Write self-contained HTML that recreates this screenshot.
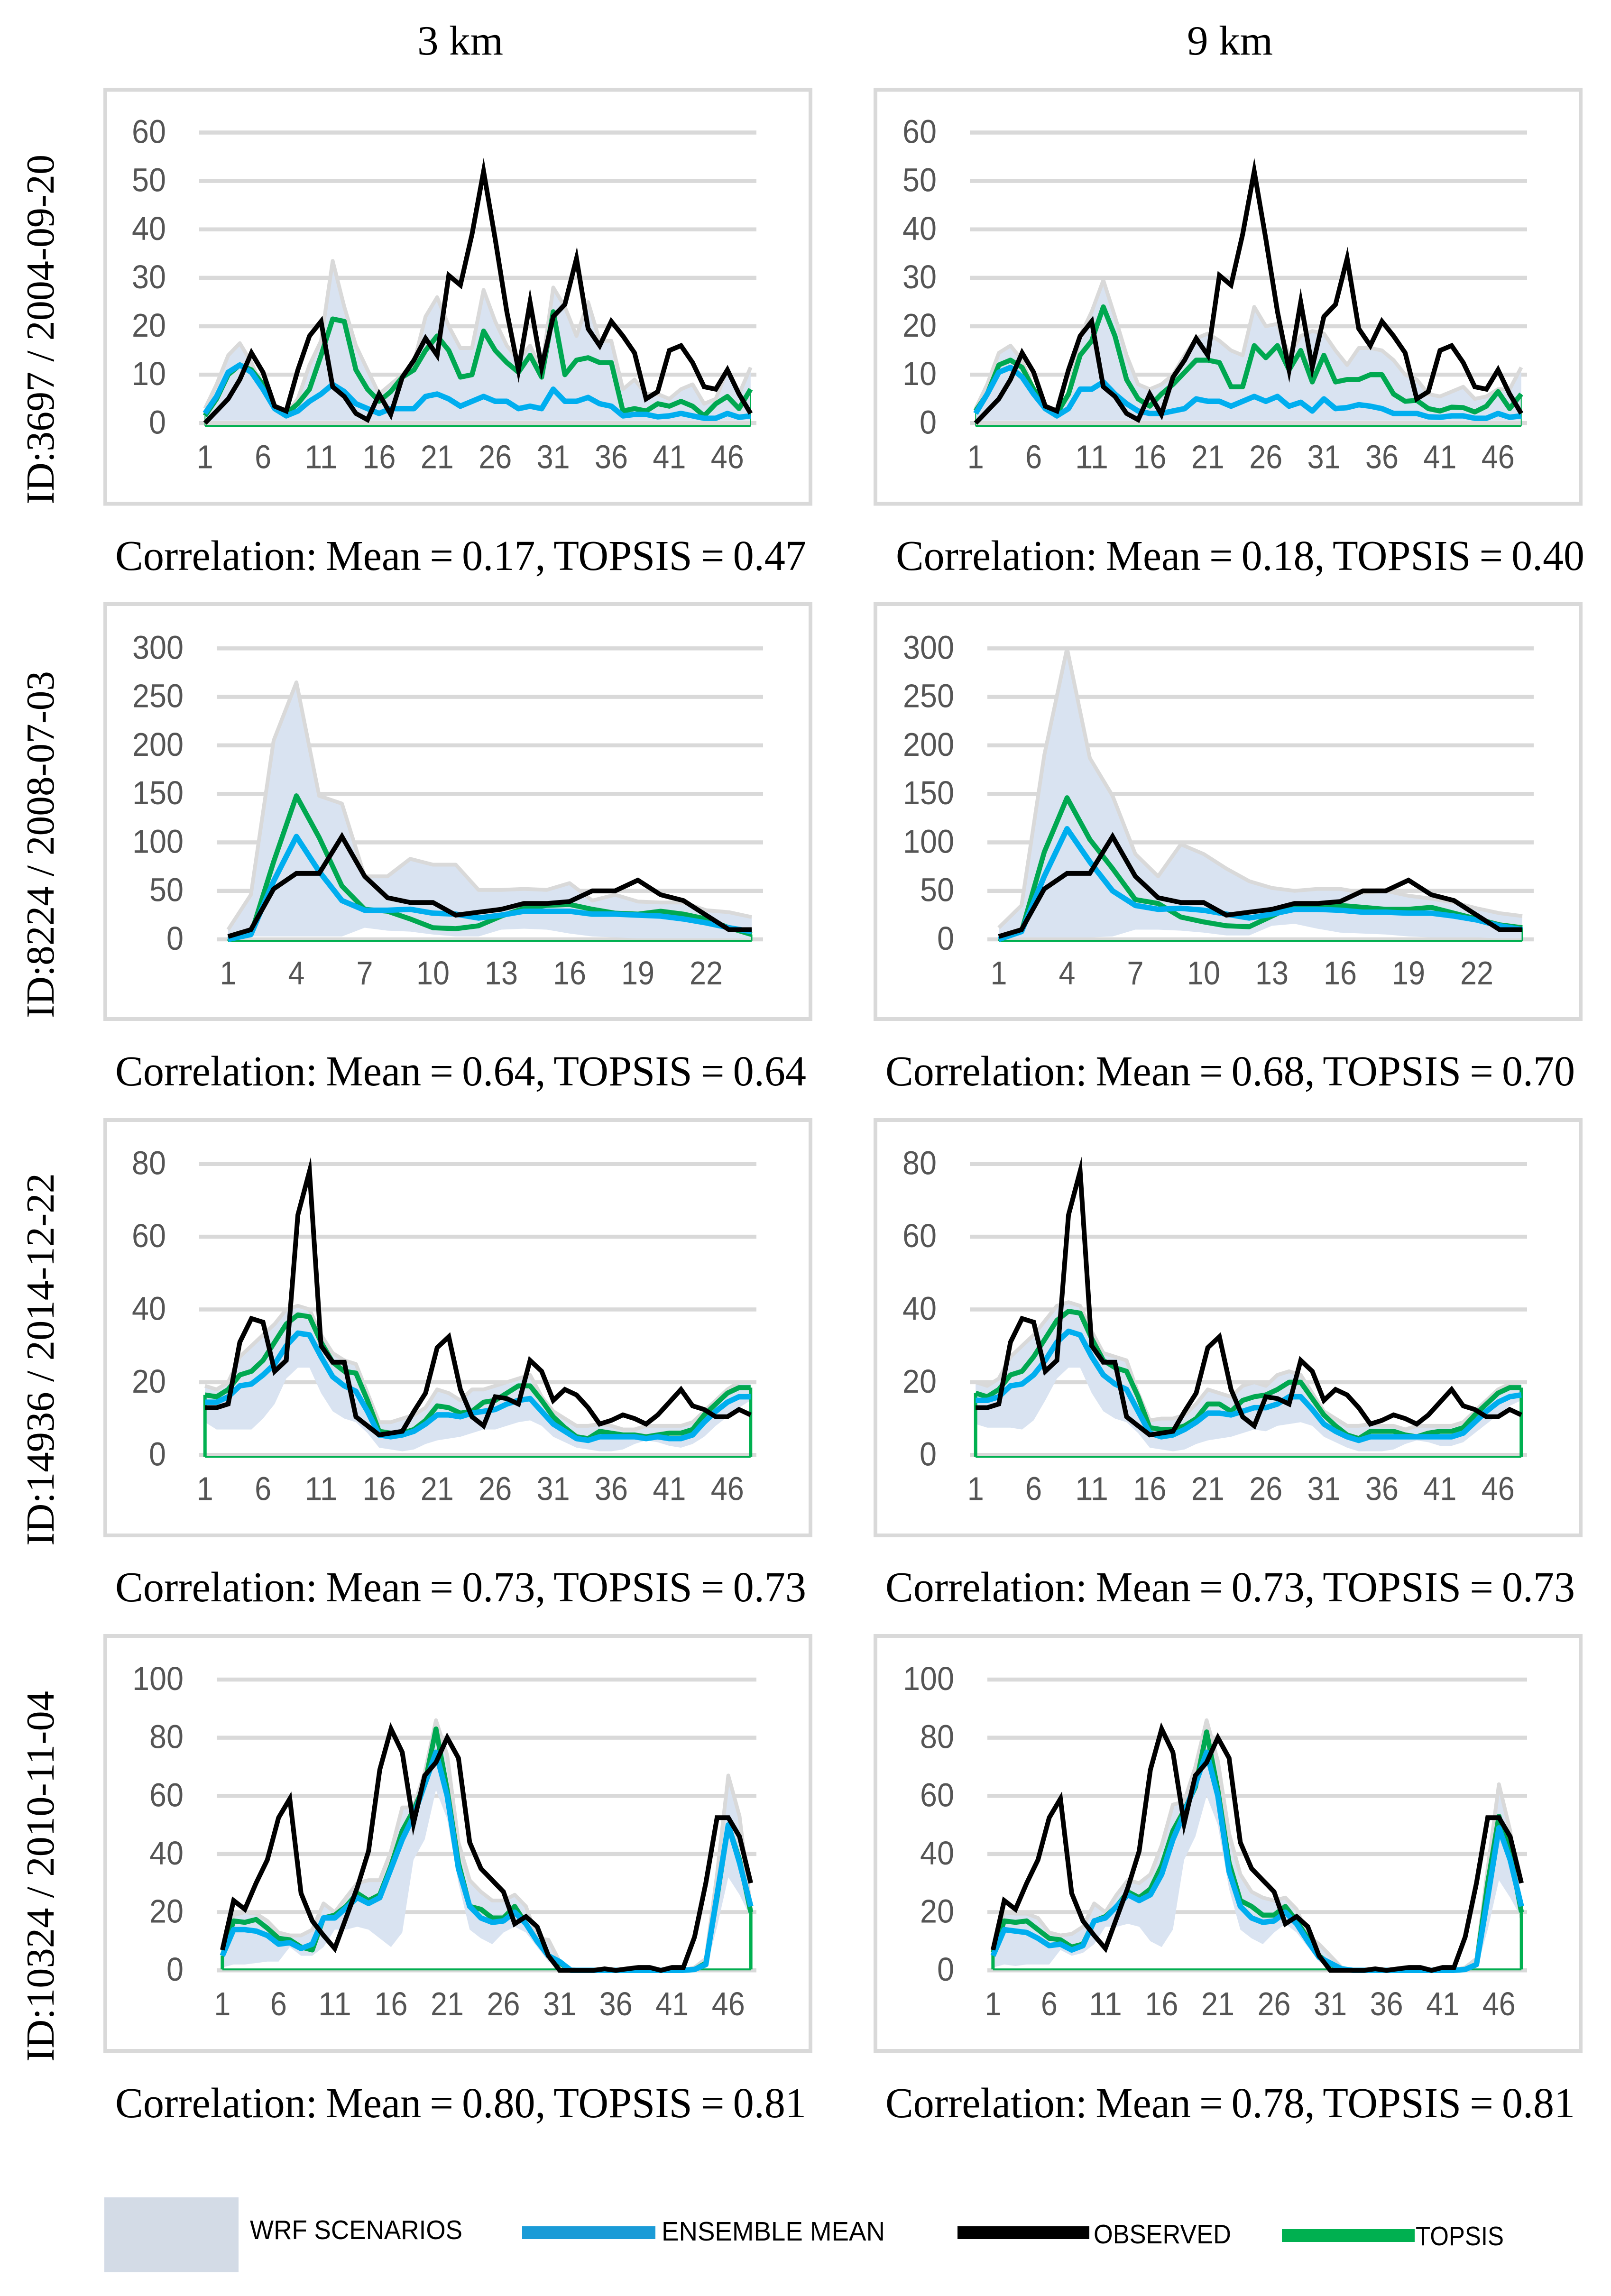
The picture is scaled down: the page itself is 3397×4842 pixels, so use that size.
<!DOCTYPE html>
<html lang="en">
<head>
<meta charset="utf-8">
<title>WRF scenarios vs observed</title>
<style>
html,body{margin:0;padding:0;background:#fff;}
svg{display:block;}
.serif{font-family:"Liberation Serif",serif;fill:#000;}
.sans{font-family:"Liberation Sans",sans-serif;}
.lg{font-family:"Liberation Sans",sans-serif;font-size:57px;fill:#000;}
.corr{font-size:90px;word-spacing:-4px;}
.rowlab{font-size:84px;}
</style>
</head>
<body>
<svg id="figure" xmlns="http://www.w3.org/2000/svg" width="3397" height="4842" viewBox="0 0 3397 4842">
  <rect x="0" y="0" width="3397" height="4842" fill="#fff"/>
  <text class="serif" x="880" y="115" font-size="88" textLength="181" lengthAdjust="spacingAndGlyphs">3 km</text>
  <text class="serif" x="2503" y="115" font-size="88" textLength="181" lengthAdjust="spacingAndGlyphs">9 km</text>

  <text class="serif rowlab" transform="translate(113,1064) rotate(-90)" textLength="738" lengthAdjust="spacingAndGlyphs">ID:3697 / 2004-09-20</text>
  <text class="serif rowlab" transform="translate(113,2147) rotate(-90)" textLength="732" lengthAdjust="spacingAndGlyphs">ID:8224 / 2008-07-03</text>
  <text class="serif rowlab" transform="translate(113,3260) rotate(-90)" textLength="786" lengthAdjust="spacingAndGlyphs">ID:14936 / 2014-12-22</text>
  <text class="serif rowlab" transform="translate(113,4348) rotate(-90)" textLength="782" lengthAdjust="spacingAndGlyphs">ID:10324 / 2010-11-04</text>

  <text class="serif corr" x="243" y="1202" textLength="1457" lengthAdjust="spacingAndGlyphs">Correlation: Mean = 0.17, TOPSIS = 0.47</text>
  <text class="serif corr" x="1889" y="1202" textLength="1452" lengthAdjust="spacingAndGlyphs">Correlation: Mean = 0.18, TOPSIS = 0.40</text>
  <text class="serif corr" x="243" y="2289" textLength="1457" lengthAdjust="spacingAndGlyphs">Correlation: Mean = 0.64, TOPSIS = 0.64</text>
  <text class="serif corr" x="1867" y="2289" textLength="1454" lengthAdjust="spacingAndGlyphs">Correlation: Mean = 0.68, TOPSIS = 0.70</text>
  <text class="serif corr" x="243" y="3377" textLength="1457" lengthAdjust="spacingAndGlyphs">Correlation: Mean = 0.73, TOPSIS = 0.73</text>
  <text class="serif corr" x="1867" y="3377" textLength="1454" lengthAdjust="spacingAndGlyphs">Correlation: Mean = 0.73, TOPSIS = 0.73</text>
  <text class="serif corr" x="243" y="4465" textLength="1457" lengthAdjust="spacingAndGlyphs">Correlation: Mean = 0.80, TOPSIS = 0.81</text>
  <text class="serif corr" x="1867" y="4465" textLength="1454" lengthAdjust="spacingAndGlyphs">Correlation: Mean = 0.78, TOPSIS = 0.81</text>

  <g>
    <rect x="220" y="4634" width="283" height="158" fill="#d3dbe6"/>
    <text class="lg" x="527" y="4722" textLength="448" lengthAdjust="spacingAndGlyphs">WRF SCENARIOS</text>
    <rect x="1101" y="4695" width="281" height="27" fill="#1a9bd7"/>
    <text class="lg" x="1395" y="4725" textLength="471" lengthAdjust="spacingAndGlyphs">ENSEMBLE MEAN</text>
    <rect x="2019" y="4695" width="278" height="27" fill="#000"/>
    <text class="lg" x="2306" y="4731" textLength="290" lengthAdjust="spacingAndGlyphs">OBSERVED</text>
    <rect x="2703" y="4701" width="280" height="27" fill="#00b050"/>
    <text class="lg" x="2985" y="4735" textLength="186" lengthAdjust="spacingAndGlyphs">TOPSIS</text>
  </g>
  <g id="charts"></g>
</svg>
<script>
/* ---------- tick labels ---------- */
const xTicks48 = ['1','6','11','16','21','26','31','36','41','46'];
const xTicks24 = ['1','4','7','10','13','16','19','22'];
const yTicks3697 = [0,10,20,30,40,50,60];
const yTicks8224 = [0,50,100,150,200,250,300];
const yTicks14936 = [0,20,40,60,80];
const yTicks10324 = [0,20,40,60,80,100];

/* ---------- event 3697 ---------- */
const observed3697 = [0,2.5,5,9,14.5,10.5,3.5,2.5,11,18, 21,7.5,5.5,2,0.7,6,1.8,9.5,13,17.5, 14,30.5,28.5,39,52,38,23,11,25,11.5, 22,24.5,34,19.5,16,21,18,14.5,5,6.5, 15,16,12.5,7.5,7,11,6,2];
const mean3697km3 = [2,5.5,10.5,12,10.5,7,3,1.5,2.5,4.5, 6,8,6.5,4,3,2,3,3,3,5.5, 6,5,3.5,4.5,5.5,4.5,4.5,3,3.5,3, 7,4.5,4.5,5.3,4,3.5,1.5,1.8,1.8,1.3, 1.5,2,1.5,1,1,2,1.2,1.5];
const topsis3697km3 = [1.5,5,10,12,11,8,3.5,2,4,7, 14,21.5,21,11,7,4.5,6.5,9.5,11,15, 18,15,9.5,10,19,15,12.5,10.5,14,9.5, 23,10,13,13.5,12.5,12.5,2.5,3,2.5,4, 3.5,4.5,3.5,1.5,4,5.5,3,7];
const upper3697km3 = [3,8,14,16.5,12.5,7,3,2,5,12, 17,33.5,24,16,11,6,8,10,12.5,22, 26,20,15.5,15.5,27.5,21,16,13,16,11, 28,24,18,25,17,17,7,9,6,6, 5,7,8,4,5,11,6,11.5];
const lower3697km3 = [0.5,0.5,0.5,0.5,0.5,0.5,0.5,0.5,0.5,0.5, 0.5,0.5,0.5,0.5,0.5,0.5,0.5,0.5,0.5,0.5, 0.5,0.5,0.5,0.5,0.5,0.5,0.5,0.5,0.5,0.5, 0.5,0.5,0.5,0.5,0.5,0.5,0.5,0.5,0.5,0.5, 0.5,0.5,0.5,0.5,0.5,0.5,0.5,0.5];
const mean3697km9 = [2,6,10.5,11.5,9.5,6,3,1.5,3,7, 7,8.5,6,4,2.5,2,2,2.5,3,5, 4.5,4.5,3.5,4.5,5.5,4.5,5.5,3.5,4.3,2.5, 5,3,3.2,3.8,3.5,3,2,2,2,1.3, 1.2,1.5,1.5,1,1,2,1.2,1.5];
const topsis3697km9 = [2.5,6,12,13,11.5,7,3.5,2,6,14, 17,24,18,9,5,3.5,6,8,10.5,13, 13,12.5,7.5,7.5,16,13.5,16,11,15,8.5, 14,8.5,9,9,10,10,6,4.5,4.7,3, 2.5,3.3,3.2,2.3,3.5,6.5,3,6];
const upper3697km9 = [3,8,14.5,16,13,7,3,2,6,18, 23,29.5,22,14,8,7,8,10,14,17.5, 18.5,17,15,14,24,20,20.5,14,18,19, 18.5,15,12,15.5,15.5,15,13,10,9,6, 5.5,6.5,7.5,5,5.5,7,7,11.5];
const lower3697km9 = [0.5,0.5,0.5,0.5,0.5,0.5,0.5,0.5,0.5,0.5, 0.5,0.5,0.5,0.5,0.5,0.5,0.5,0.5,0.5,0.5, 0.5,0.5,0.5,0.5,0.5,0.5,0.5,0.5,0.5,0.5, 0.5,0.5,0.5,0.5,0.5,0.5,0.5,0.5,0.5,0.5, 0.5,0.5,0.5,0.5,0.5,0.5,0.5,0.5];

/* ---------- event 8224 ---------- */
const observed8224 = [3,10,52,68,68,106,65,43,38,38,25,28,31,37,37,39,50,50,61,46,40,25,10,10];
const mean8224km3 = [0,5,60,106,70,40,30,30,31,27,26,22,25,29,29,29,26,26,25,24,21,17,12,8];
const topsis8224km3 = [0,5,80,148,105,55,31,29,21,12,11,14,24,32,35,36,31,27,26,29,26,21,12,5];
const upper8224km3 = [10,46,205,265,148,140,65,65,83,77,77,51,51,52,51,58,40,46,39,38,38,30,28,23];
const lower8224km3 = [0,3,3,3,3,3,12,9,8,5,3,3,10,11,10,6,3,2,1,1,1,1,1,1];
const mean8224km9 = [0,8,65,114,80,50,35,31,32,30,26,22,26,31,31,30,28,28,27,27,24,20,14,10];
const topsis8224km9 = [0,8,90,146,103,73,41,37,23,18,14,13,24,35,35,35,33,31,31,33,27,21,15,12];
const upper8224km9 = [12,35,190,300,187,148,88,65,98,88,73,60,53,50,52,52,48,50,45,42,38,32,27,24];
const lower8224km9 = [0,2,2,2,2,3,10,10,9,7,4,4,14,16,11,7,6,5,3,2,2,2,1,1];

/* ---------- event 14936 ---------- */
const observed14936 = [13,13,14,31,37.5,36.5,23,26,66,78, 30,25.5,25.5,10.5,8,5.5,6,6.5,12,17, 29.5,32.5,18,10.5,8,16,15.5,14,26,23, 15,18,16.5,13,8.5,9.5,11,10,8.5,11, 14.5,18,13.5,12.5,10.5,10.5,12.5,11];
const mean14936km3 = [14.5,14.5,16,19,19.5,22,25,30,33.5,33, 27,21.5,19,17.5,12,5.5,5,5.5,6.5,8.5, 11,11,10.5,11.5,12,12.5,14,15,15.5,12, 8.5,6.5,4.5,4,5,5,5,5,4.5,5, 4.5,4.5,5.5,9,12,14.5,16,16];
const topsis14936km3 = [16.5,16,18,22,23,26,31,36,38.5,38, 31,25.5,23,22.5,15,6.5,6,6,7,9.5, 13.5,13,11.5,12,14.5,15,17,19,19,15, 10.5,7.5,5,4.5,6.5,6,5.5,5.5,5,5.5, 6,6,7,11,14,17,18.5,18.5];
const upper14936km3 = [19,18,20,27,30,33,36,40,41,40, 33,28,26,25,17,9,9,10,11,13, 18,17,15,18,18,19,20,21,22,16, 12,10,8,8,8.5,8,7,7,8,8, 8,8,9,12,15,18,20,20];
const lower14936km3 = [9,7,7,7,7,10,14,21,24,24, 17,12,10,9,6,2,1.5,1,1.5,3, 4,4.5,5,6,7,7,8,9,9.5,8, 5,3.5,2,1.5,1,1,1.5,3,4,3.5, 2.5,2,3,5,8,10.5,13,15];
const mean14936km9 = [15,15,16,19,19.5,22,26,31,34,33, 27,22,19.5,18,12,6,5,5.5,7,9, 11.5,11.5,11,12,13,13,14,16,16,12.5, 8.5,6.5,5,4,5,5,5,5,5,5, 5,5,6,9,12,14.5,16,16.5];
const topsis14936km9 = [17,16,18,22,23,27,32,37,39.5,39, 32,26,24,23,16,7.5,7,7,8,10, 14,14,12,15,16,16.5,18,20,20,15.5, 11,8,5.5,4.5,6.5,6.5,6.5,5.5,5,6, 6.5,6.5,7.5,11,14,17,18.5,18.5];
const upper14936km9 = [20,19,21,27,30,33,37,41,42,41, 34,28,27,26,17,9.5,10,10,11,14, 18,17,16,19,20,19,22,23,22,17, 12,10,8,8,8.5,8,8,7,8,8, 8,8,9,12,15,18,19.5,20];
const lower14936km9 = [8.5,7.5,7.5,7.5,7,9.5,15,21,24,24, 17,12,10,9,6,2,1.5,1,1.5,3, 4,4.5,5,6,7,6.5,8,8.5,9,8, 5,3.5,2,1,1,1,1.5,3,4,3.5, 2.5,2.5,3.5,6,8.5,11,13.5,15];

/* ---------- event 10324 ---------- */
const observed10324 = [7,24,21,30,38,52.5,59,26.5,17,12, 7.5,18,28.5,41,69,83,75,50.5,67,71.5, 80,73,44,35,31,27,16,18.5,15,5, 0,0,0,0,0.5,0,0.5,1,1,0, 1,1,11.5,30,52.5,52.5,46,30];
const mean10324km3 = [5,14,14,13.5,12,9,9.5,7.5,9,18, 18,21.5,25,23,25,35,45,53,64,75, 60,35,22,18,16.5,17,20,16,10,5, 3,0,0,0,0,0,0,0,0,0, 0,0,0.3,2,26,50,37,22];
const topsis10324km3 = [5,17,16.5,17.5,14.5,11,10.5,8,7,18, 19,22,26.5,24,26,36,48,55,64,83, 62,37,22,21,18,18,22,16,10,5, 2.5,0,0,0,0,0,0,0,0,0, 0,0,0.3,2.5,25,50,38,20];
const upper10324km3 = [8,19,20,19.5,17,13,12,12,14,23, 20,25,30,31,31,41,56,56,68,86, 74,44,31,27,24,24,26,22,11,10.5, 3,0.5,0,0,0,0,0,0,0,0, 0,0,1,4,33,67,53,21];
const lower10324km3 = [1,2,2,2.5,3,3,8,5,5,8, 14,14,15,14,11,8,13,38,45,62, 52,30,14,11,9,13,15,13,8,3, 1,0,0,0,0,0,0,0,0,0, 0,0,0,0,15,32,26,18];
const mean10324km9 = [5,14,13.5,13,11,8.5,9,7,8.5,17, 18,22,26,24,26,33,45,54,64,75, 60,34,22,18,16.5,17,20,16,10,4.5, 2.5,0.5,0,0,0,0,0,0,0,0, 0,0,0.3,2,25,49,38,22];
const topsis10324km9 = [6,17,16.5,17,14,11,10.5,8,9,17, 18.5,22,27,25,28,36,48,55,63,82, 62,37,24,22,19,19,22,17,11,5, 2,0.5,0,0,0,0,0,0,0,0, 0,0,0.3,2,30,53,40,20];
const upper10324km9 = [8,20,19.5,19.5,18,13,12,12.5,15,23, 20,26,31,30,33,43,57,58,70,86, 72,47,33,27,25,24,25,21,12,9, 5,1,0,0,0,0,0,0,0,0, 0,0,1,4,35,64,48,18];
const lower10324km9 = [1,2,1.5,2,2,2,7,5,6,9, 15,15,16,15,10,8,14,38,46,60, 50,28,14,11,9,13,16,13,8,3, 1,0,0,0,0,0,0,0,0,0, 0,0,0,0,14,31,25,18];

const charts = [
  {key:'3697-3km',  row:0, col:0, yMax:60,  yTicks:yTicks3697,  xTicks:xTicks48, observed:observed3697,  mean:mean3697km3,  topsis:topsis3697km3,  upper:upper3697km3,  lower:lower3697km3},
  {key:'3697-9km',  row:0, col:1, yMax:60,  yTicks:yTicks3697,  xTicks:xTicks48, observed:observed3697,  mean:mean3697km9,  topsis:topsis3697km9,  upper:upper3697km9,  lower:lower3697km9},
  {key:'8224-3km',  row:1, col:0, yMax:300, yTicks:yTicks8224,  xTicks:xTicks24, observed:observed8224,  mean:mean8224km3,  topsis:topsis8224km3,  upper:upper8224km3,  lower:lower8224km3},
  {key:'8224-9km',  row:1, col:1, yMax:300, yTicks:yTicks8224,  xTicks:xTicks24, observed:observed8224,  mean:mean8224km9,  topsis:topsis8224km9,  upper:upper8224km9,  lower:lower8224km9},
  {key:'14936-3km', row:2, col:0, yMax:80,  yTicks:yTicks14936, xTicks:xTicks48, observed:observed14936, mean:mean14936km3, topsis:topsis14936km3, upper:upper14936km3, lower:lower14936km3},
  {key:'14936-9km', row:2, col:1, yMax:80,  yTicks:yTicks14936, xTicks:xTicks48, observed:observed14936, mean:mean14936km9, topsis:topsis14936km9, upper:upper14936km9, lower:lower14936km9},
  {key:'10324-3km', row:3, col:0, yMax:100, yTicks:yTicks10324, xTicks:xTicks48, observed:observed10324, mean:mean10324km3, topsis:topsis10324km3, upper:upper10324km3, lower:lower10324km3},
  {key:'10324-9km', row:3, col:1, yMax:100, yTicks:yTicks10324, xTicks:xTicks48, observed:observed10324, mean:mean10324km9, topsis:topsis10324km9, upper:upper10324km9, lower:lower10324km9}
];

const SVGNS = 'http://www.w3.org/2000/svg';
function mk(tag, parent, props) {
  const el = document.createElementNS(SVGNS, tag);
  for (const k in props) el.setAttribute(k, props[k]);
  parent.appendChild(el);
  return el;
}
function layout(row, col) {
  const dx = col * 1624;
  const rows = [
    {frameTop:189.5, frameBot:1062.5, plotTop:279.5,  plotZero:892.3,  left:420, right:1595, closeOff:6, endW:2},
    {frameTop:1274,  frameBot:2149,   plotTop:1367.4, plotZero:1981,   left:457, right:1609, closeOff:3, endW:3},
    {frameTop:2362,  frameBot:3238,   plotTop:2454.7, plotZero:3068.3, left:420, right:1595, closeOff:4, endW:7},
    {frameTop:3450,  frameBot:4325,   plotTop:3542,   plotZero:4155.2, left:457, right:1595, closeOff:-2, endW:7}
  ];
  const r = rows[row];
  return {frameLeft:222 + dx, frameW:1487, frameTop:r.frameTop, frameBot:r.frameBot,
          plotTop:r.plotTop, plotZero:r.plotZero, left:r.left + col * 1625, right:r.right + col * 1625,
          closeOff:r.closeOff, endW:r.endW};
}
const root = document.getElementById('charts');

charts.forEach(function (c) {
  const L = layout(c.row, c.col);
  const n = c.observed.length;
  const xAt = function (cat) { return L.left + (cat - 0.5) * (L.right - L.left) / n; };
  const yAt = function (v) { return L.plotZero - v / c.yMax * (L.plotZero - L.plotTop); };
  const pts = function (arr) { return arr.map(function (v, i) { return xAt(i + 1).toFixed(1) + ',' + yAt(v).toFixed(1); }); };

  const g = mk('g', root, {});
  
  

  const frame = mk('rect', g, {x:L.frameLeft, y:L.frameTop, width:L.frameW, height:L.frameBot - L.frameTop, fill:'#fff', stroke:'#d9d9d9', 'stroke-width':8});
  
  

  c.yTicks.forEach(function (t) {
    const line = mk('line', g, {x1:L.left, x2:L.right, y1:yAt(t), y2:yAt(t), stroke:'#d9d9d9', 'stroke-width':8.5});
    
    
    const label = String(t);
    const tx = mk('text', g, {x:L.left - 70, y:yAt(t) + 22, 'text-anchor':'end', 'class':'sans', 'font-size':70, fill:'#555', textLength:label.length * 36, lengthAdjust:'spacingAndGlyphs'});
    tx.textContent = label;
    
    
  });

  c.xTicks.forEach(function (label) {
    const tx = mk('text', g, {x:xAt(Number(label)), y:L.plotZero + 95, 'text-anchor':'middle', 'class':'sans', 'font-size':70, fill:'#555', textLength:label.length * 35, lengthAdjust:'spacingAndGlyphs'});
    tx.textContent = label;
    
    
  });

  const area = mk('polygon', g, {points:pts(c.upper).concat(pts(c.lower).reverse()).join(' '), fill:'#d9e3f1', stroke:'none'});
  
  

  const edge = mk('polyline', g, {points:pts(c.upper).join(' '), fill:'none', stroke:'#d9d9d9', 'stroke-width':8, 'stroke-linejoin':'round'});
  
  

  const baseY = L.plotZero + L.closeOff;
  const base = mk('line', g, {x1:xAt(1), x2:xAt(n), y1:baseY, y2:baseY, stroke:'#00b050', 'stroke-width':4});
  
  

  const endLeft = mk('line', g, {x1:xAt(1), x2:xAt(1), y1:yAt(c.topsis[0]), y2:baseY, stroke:'#00b050', 'stroke-width':L.endW});
  
  

  const endRight = mk('line', g, {x1:xAt(n), x2:xAt(n), y1:yAt(c.topsis[n - 1]), y2:baseY, stroke:'#00b050', 'stroke-width':L.endW});
  
  

  const topsis = mk('polyline', g, {points:pts(c.topsis).join(' '), fill:'none', stroke:'#00a850', 'stroke-width':10.5, 'stroke-linejoin':'round'});
  
  

  const mean = mk('polyline', g, {points:pts(c.mean).join(' '), fill:'none', stroke:'#00aeef', 'stroke-width':11.5, 'stroke-linejoin':'round'});
  
  

  const obs = mk('polyline', g, {points:pts(c.observed).join(' '), fill:'none', stroke:'#000', 'stroke-width':10, 'stroke-linejoin':'miter', 'stroke-miterlimit':8});
  
  
});
</script>
</body>
</html>
